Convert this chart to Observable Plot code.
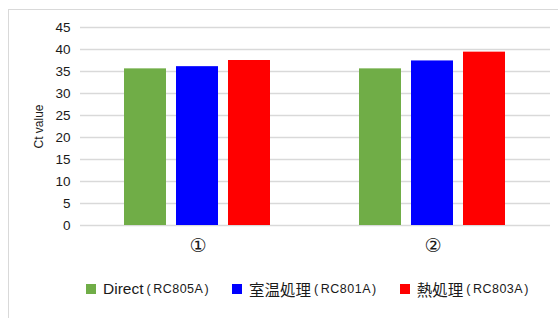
<!DOCTYPE html>
<html>
<head>
<meta charset="utf-8">
<script src="https://cdn.jsdelivr.net/npm/d3@7"></script>
<script src="https://cdn.jsdelivr.net/npm/@observablehq/plot@0.6"></script>
<style>
  html, body { margin: 0; padding: 0; background: #fff; overflow: hidden; }
  body { width: 558px; height: 318px; position: relative; font-family: "Liberation Sans", Arial, "Noto Sans CJK JP", sans-serif; }
  #frame { position: absolute; left: 8px; top: 9px; width: 620px; height: 400px; border: 1px solid #d9d9d9; pointer-events: none; }
  #chart { position: absolute; left: 0; top: 0; }
  #legend { position: absolute; left: 86px; top: 278px; display: flex; align-items: center; gap: 23px; color: #1a1a1a; white-space: nowrap; }
  .item { display: flex; align-items: center; }
  .sw { width: 10px; height: 10px; margin-right: 7px; }
  .main { font-size: 15.5px; font-family: "Liberation Sans", Arial, "Noto Sans CJK JP", sans-serif; }
  .code { font-size: 12.5px; letter-spacing: 0.5px; font-family: "Liberation Sans", Arial, "Noto Sans CJK JP", sans-serif; margin-left: 3px; }
  .pl { margin-right: 2px; }
  .pr { margin-left: 1px; }
</style>
</head>
<body>
<div id="chart"></div>
<div id="frame"></div>
<div id="legend"></div>
<script>
const groups = ["①", "②"];
const seriesNames = ["Direct", "室温処理", "熱処理"];
const seriesCodes = ["RC805A", "RC801A", "RC803A"];
const seriesColors = ["#70AD47", "#0000FF", "#FF0000"];
const valuesGroup1 = [35.6, 36.1, 37.5];
const valuesGroup2 = [35.6, 37.4, 39.4];
const yTicks = [0, 5, 10, 15, 20, 25, 30, 35, 40, 45];
const yLabel = "Ct value";

const seriesKeys = seriesNames.map((n, i) => n + "(" + seriesCodes[i] + ")");
const groupValues = [valuesGroup1, valuesGroup2];
const data = [];
groups.forEach((g, gi) => {
  seriesKeys.forEach((s, si) => {
    data.push({group: g, series: s, value: groupValues[gi][si]});
  });
});

const chart = Plot.plot({
  width: 558,
  height: 265,
  marginLeft: 80,
  marginRight: 8,
  marginTop: 27,
  marginBottom: 40,
  style: {fontFamily: "'Liberation Sans', Arial, 'DejaVu Sans', 'Noto Sans CJK JP', sans-serif", color: "#1a1a1a", background: "transparent"},
  fx: {domain: groups, padding: 0},
  x: {domain: seriesKeys, paddingInner: 0.19, paddingOuter: 0.85, axis: null},
  y: {domain: [0, 45]},
  color: {domain: seriesKeys, range: seriesColors},
  marks: [
    Plot.gridY(yTicks, {stroke: "#d9d9d9", strokeOpacity: 1, strokeWidth: 1.3}),
    Plot.barY(data, {fx: "group", x: "series", y: "value", fill: "series"}),
    Plot.axisY(yTicks, {tickSize: 0, tickPadding: 10, fontSize: 13.5, label: yLabel, labelAnchor: "center", labelArrow: "none", labelOffset: 46}),
    Plot.axisFx({anchor: "bottom", tickSize: 0, tickPadding: 13, fontSize: 19, fontFamily: "'DejaVu Sans', sans-serif", label: null})
  ]
});
document.getElementById("chart").appendChild(chart);

chart.querySelectorAll("text").forEach(t => {
  if (t.textContent === yLabel) t.setAttribute("font-size", "12");
});

const legend = document.getElementById("legend");
seriesNames.forEach((n, i) => {
  const item = document.createElement("div");
  item.className = "item";
  const sw = document.createElement("span");
  sw.className = "sw";
  sw.style.background = seriesColors[i];
  const main = document.createElement("span");
  main.className = "main";
  main.textContent = n;
  const code = document.createElement("span");
  code.className = "code";
  const pl = document.createElement("span");
  pl.className = "pl";
  pl.textContent = "(";
  const mid = document.createElement("span");
  mid.textContent = seriesCodes[i];
  const pr = document.createElement("span");
  pr.className = "pr";
  pr.textContent = ")";
  code.appendChild(pl);
  code.appendChild(mid);
  code.appendChild(pr);
  item.appendChild(sw);
  item.appendChild(main);
  item.appendChild(code);
  legend.appendChild(item);
});
</script>
</body>
</html>
